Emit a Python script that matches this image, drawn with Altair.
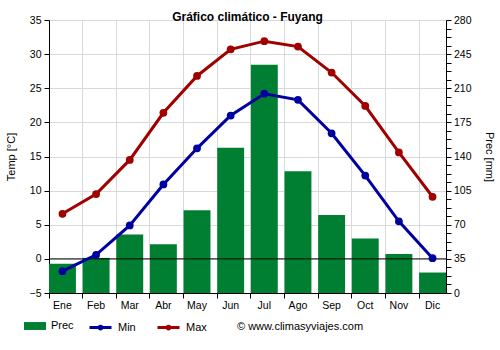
import altair as alt
import pandas as pd

months = ["Ene", "Feb", "Mar", "Abr", "May", "Jun", "Jul", "Ago", "Sep", "Oct", "Nov", "Dic"]
prec = [30, 36, 60, 50, 85, 149, 234, 125, 80, 56, 40, 21]
tmin = [-1.8, 0.6, 4.9, 10.9, 16.2, 21.0, 24.2, 23.3, 18.4, 12.2, 5.5, 0.1]
tmax = [6.6, 9.5, 14.5, 21.4, 26.8, 30.7, 31.9, 31.1, 27.3, 22.4, 15.6, 9.1]
temp_ticks = [-5, 0, 5, 10, 15, 20, 25, 30, 35]
prec_ticks = [i * 8.75 for i in range(33)]
credit = ["© www.climasyviajes.com"]

FONT = "Arial, Liberation Sans, sans-serif"
GREEN = "#007f32"
BLUE = "#0000a0"
RED = "#a00000"
GRID = "#d9d9d9"

prec_df = pd.DataFrame({"Mes": months, "Prec": prec, "Serie": ["Prec"] * 12})
temp_df = pd.DataFrame({"Mes": months * 2, "Temp": tmin + tmax,
                        "Serie": ["Min"] * 12 + ["Max"] * 12})
zero_df = pd.DataFrame({"Temp": [0]})
credit_df = pd.DataFrame({"t": credit})

xscale = alt.Scale(domain=months, paddingInner=0.2, paddingOuter=0)
xaxis = alt.Axis(title=None, bandPosition=0, grid=True, gridColor=GRID,
                 domainColor="black", tickColor="black", tickSize=5,
                 labelAngle=0, labelPadding=2, labelFontSize=10.5,
                 labelColor="black", labelFont=FONT)
x = alt.X("Mes:N", sort=months, scale=xscale, axis=xaxis)

bars = alt.Chart(prec_df).mark_bar(opacity=1).encode(
    x=x,
    y=alt.Y("Prec:Q", scale=alt.Scale(domain=[0, 280], nice=False, zero=True),
            axis=alt.Axis(orient="right", title="Prec [mm]", values=prec_ticks,
                          labelExpr="datum.value % 35 === 0 ? datum.label : ''",
                          grid=False, domainColor="black", tickColor="black",
                          tickSize=5, labelPadding=2.5, labelFontSize=10.5,
                          labelColor="black", labelFont=FONT,
                          titleFont=FONT, titleFontSize=11, titleFontWeight="normal",
                          titleColor="black", titlePadding=12.5)),
    fill=alt.Fill("Serie:N", scale=alt.Scale(domain=["Prec"], range=[GREEN]),
                  legend=alt.Legend(title=None, orient="none", legendX=-25, legendY=295,
                                    symbolType="M-1,-0.36L1,-0.36L1,0.36L-1,0.36Z",
                                    symbolSize=484, symbolStrokeWidth=0,
                                    labelFont=FONT, labelFontSize=11, labelColor="black",
                                    labelOffset=5)),
)

tscale = alt.Scale(domain=[-5, 35], nice=False, zero=False)
taxis = alt.Axis(orient="left", title="Temp [°C]", values=temp_ticks, grid=True,
                 gridColor=GRID, domainColor="black", tickColor="black", tickSize=5,
                 labelPadding=3, labelFontSize=10.5, labelColor="black", labelFont=FONT,
                 titleFont=FONT, titleFontSize=11, titleFontWeight="normal",
                 titleColor="black", titlePadding=13)

color = alt.Color("Serie:N", scale=alt.Scale(domain=["Min", "Max"], range=[BLUE, RED]),
                  legend=alt.Legend(title=None, orient="none", legendX=39, legendY=295,
                                    direction="horizontal",
                                    symbolType="M-1,0L1,0M0.12,0A0.12,0.12 0 1,1 -0.12,0A0.12,0.12 0 1,1 0.12,0",
                                    symbolSize=484, symbolStrokeWidth=3,
                                    labelFont=FONT, labelFontSize=11, labelColor="black",
                                    labelOffset=5, columnPadding=15))

base_t = alt.Chart(temp_df).encode(
    x=x,
    y=alt.Y("Temp:Q", scale=tscale, axis=taxis),
    color=color,
)
zero = alt.Chart(zero_df).mark_rule(color="black", strokeWidth=1).encode(
    y=alt.Y("Temp:Q", scale=tscale, axis=taxis))
lines = base_t.mark_line(strokeWidth=3)
pts = base_t.mark_circle(size=60, opacity=1)

temp_layer = alt.layer(zero, lines, pts)

credit_layer = alt.Chart(credit_df).mark_text(
    font=FONT, fontSize=11, color="black", baseline="middle", align="center"
).encode(x=alt.value(251), y=alt.value(307), text="t:N")

chart = alt.layer(bars, temp_layer, credit_layer).resolve_scale(
    y="independent"
).properties(
    width=397, height=273,
    autosize=alt.AutoSizeParams(type="none"),
    padding={"left": 49, "top": 20, "right": 54, "bottom": 57},
    title=alt.Title("Gráfico climático - Fuyang", font=FONT, fontSize=12,
                    fontWeight="bold", color="black", anchor="middle",
                    baseline="alphabetic", offset=0, dy=18),
).configure_view(stroke=None).configure(background="white")

chart.save("out.html", embed_options={"renderer": "svg", "actions": False})
